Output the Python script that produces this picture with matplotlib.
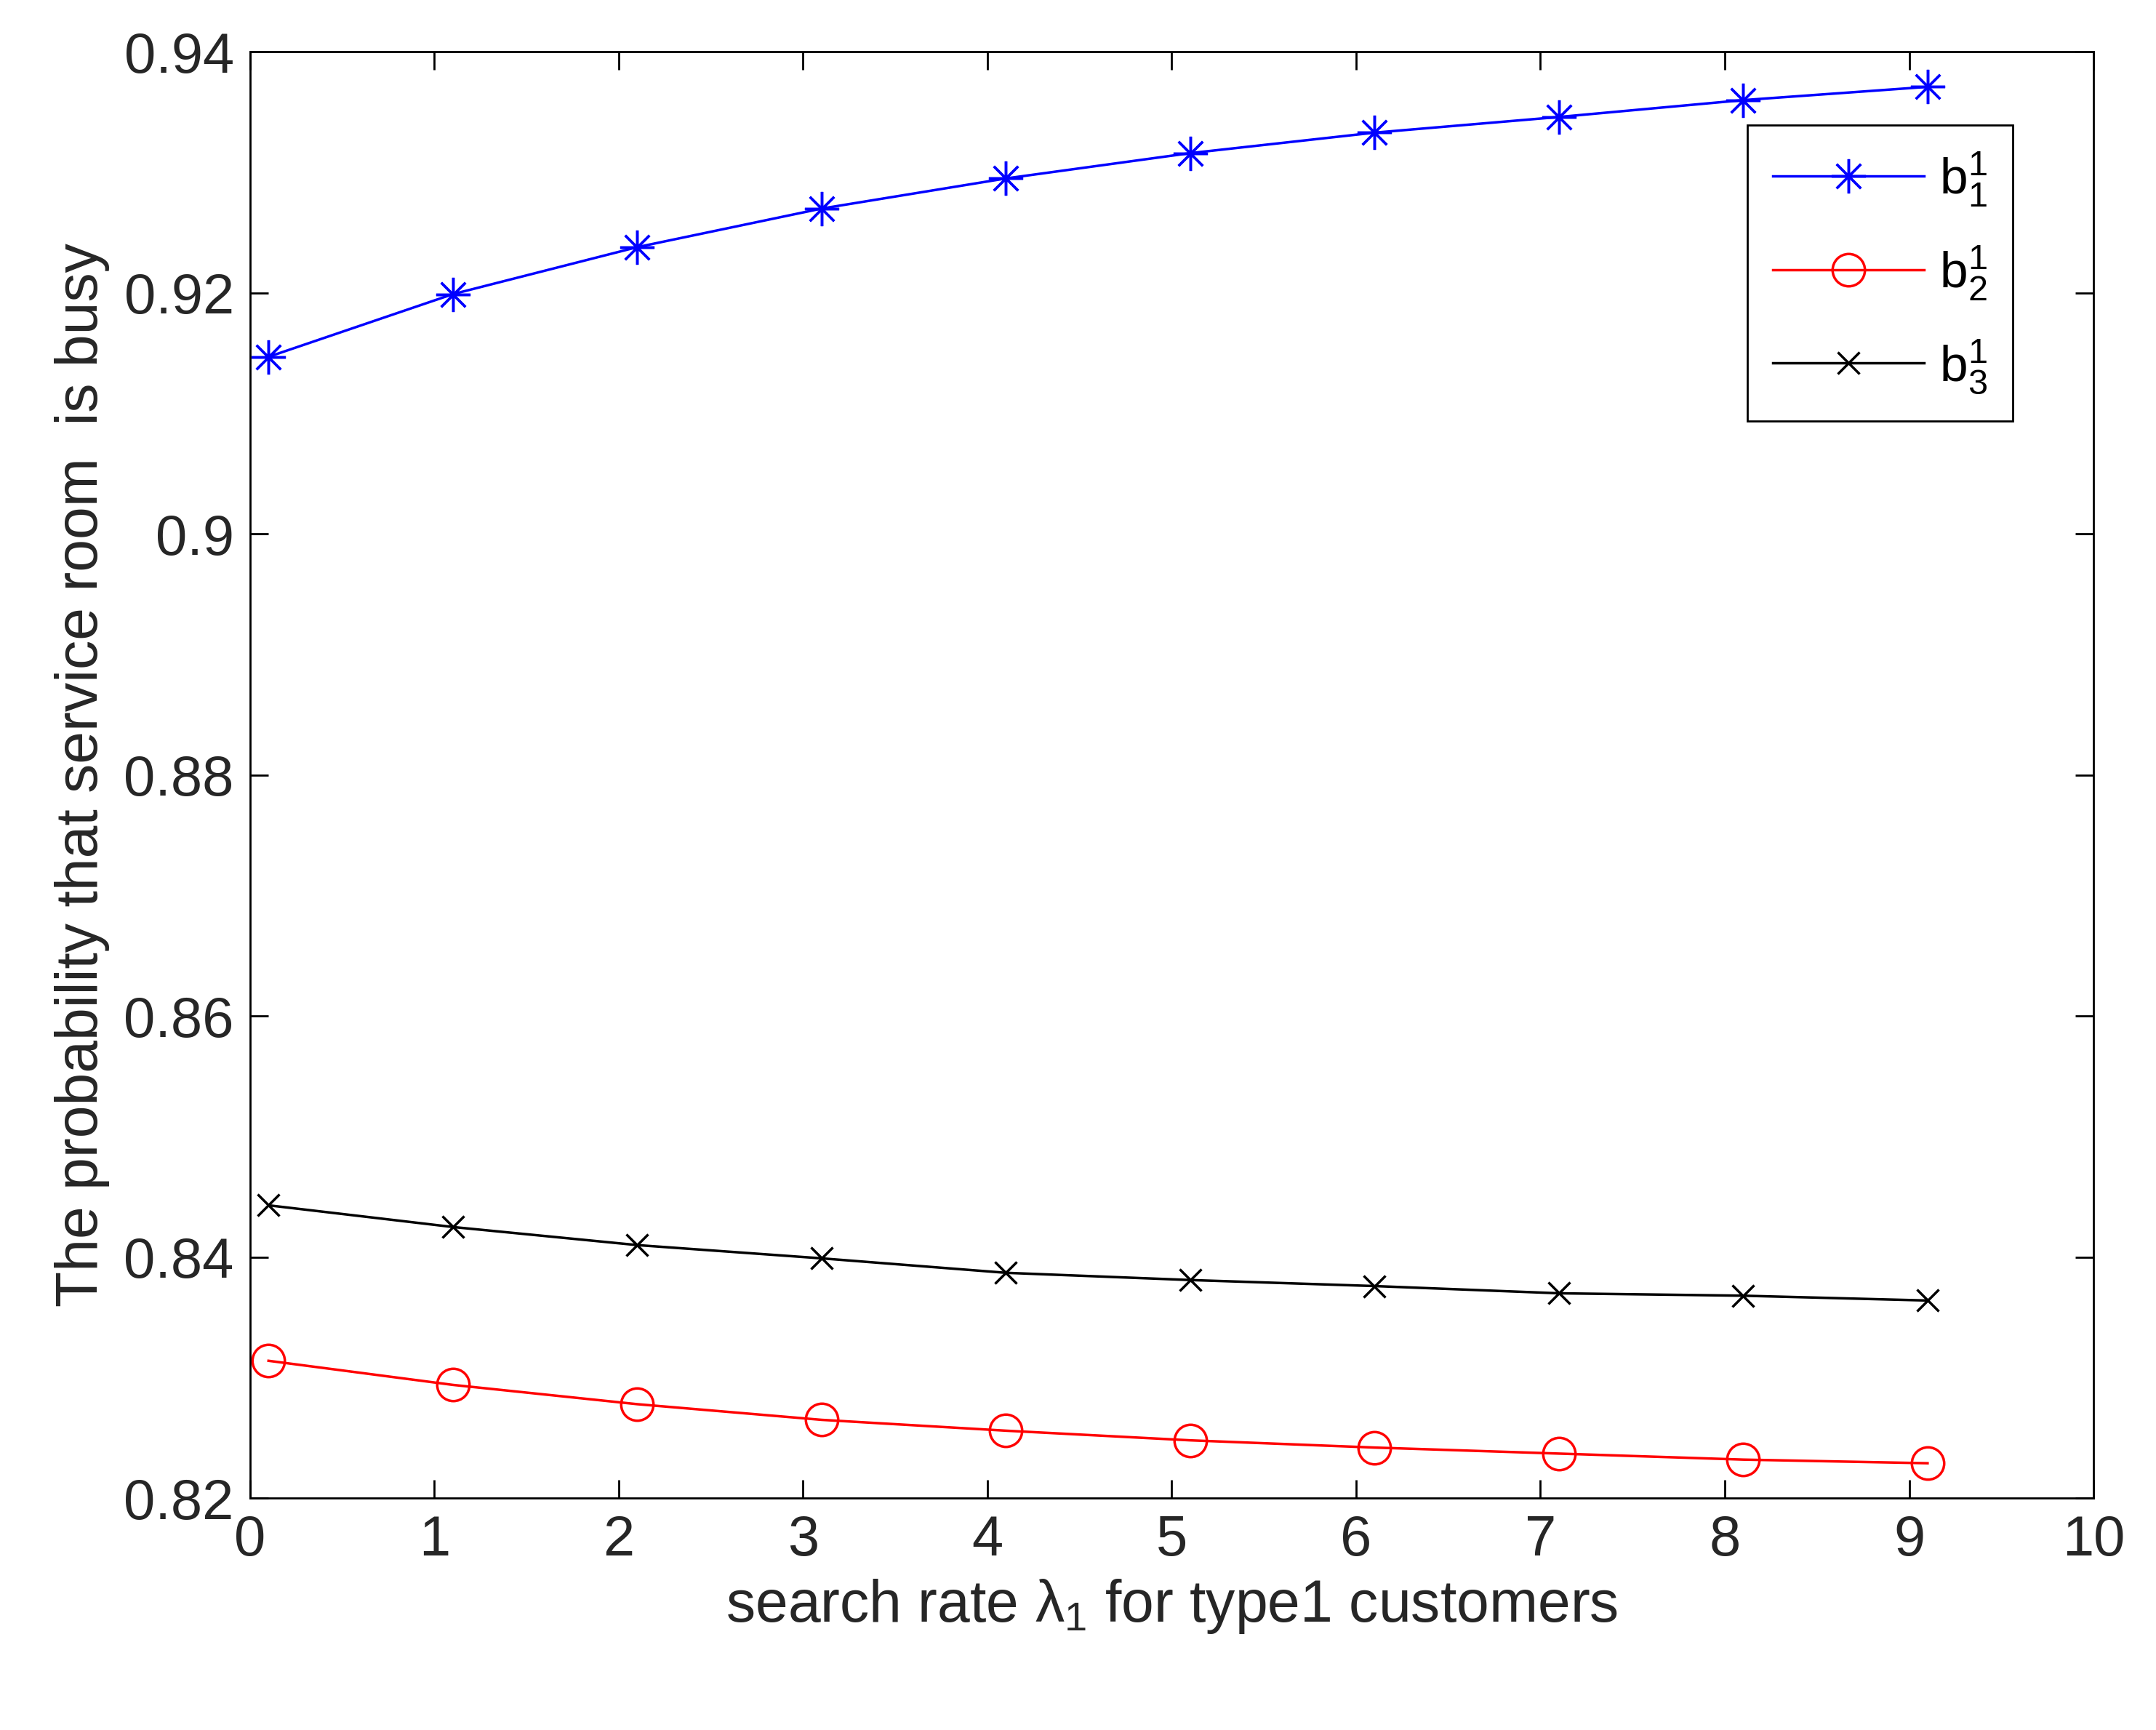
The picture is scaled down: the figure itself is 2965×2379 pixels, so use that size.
import matplotlib
matplotlib.use("Agg")
import matplotlib.pyplot as plt

plt.rcParams['font.family'] = ['Liberation Sans', 'DejaVu Sans']
plt.rcParams['mathtext.fontset'] = 'custom'
plt.rcParams['mathtext.rm'] = 'Liberation Sans'
plt.rcParams['mathtext.it'] = 'Liberation Sans'

x = [0.1, 1.1, 2.1, 3.1, 4.1, 5.1, 6.1, 7.1, 8.1, 9.1]
b1 = [0.9147, 0.9199, 0.9238, 0.9270, 0.9295, 0.9316, 0.9333, 0.9346, 0.9360, 0.9371]
b2 = [0.8314, 0.8294, 0.8278, 0.8265, 0.8256, 0.8248, 0.8242, 0.8237, 0.8232, 0.8229]
b3 = [0.8443, 0.8425, 0.8410, 0.8399, 0.8387, 0.8381, 0.8376, 0.8370, 0.8368, 0.8364]
xticks = list(range(0, 11))
yticks = [0.82, 0.84, 0.86, 0.88, 0.9, 0.92, 0.94]
yticklabels = ["0.82", "0.84", "0.86", "0.88", "0.9", "0.92", "0.94"]

fig = plt.figure(figsize=(29.65, 23.79), dpi=100)
ax = fig.add_axes([0.116, 0.134, 0.855, 0.836])
ax.plot(x, b1, color="#0000ff", marker=(8, 2, 0), markersize=34, markeredgewidth=2.5, lw=2.5, label=r"b$_1^1$")
ax.plot(x, b2, color="#ff0000", marker="o", markersize=32, markerfacecolor="none", markeredgewidth=2.5, lw=2.5, label=r"b$_2^1$")
ax.plot(x, b3, color="black", marker="x", markersize=22, markeredgewidth=2.5, lw=2.5, label=r"b$_3^1$")
ax.set_xlim(0, 10)
ax.set_ylim(0.82, 0.94)
ax.set_xticks(xticks)
ax.set_yticks(yticks)
ax.set_yticklabels(yticklabels)
ax.tick_params(direction="in", length=18, width=2, top=True, right=True, labelsize=56, pad=16, labelcolor="#262626")
for s in ax.spines.values():
    s.set_linewidth(2)
ax.set_xlabel(r"search rate $\lambda_1$ for type1 customers", fontsize=58, color="#262626", labelpad=10)
ax.set_ylabel("The probability that service room  is busy", fontsize=58, color="#262626", labelpad=14)
leg = ax.legend(loc="upper right", bbox_to_anchor=(0.97, 0.967), fontsize=50, fancybox=False,
                edgecolor="black", framealpha=1, handlelength=3.0, labelspacing=0.7, borderpad=0.5,
                handletextpad=0.3)
leg.get_frame().set_linewidth(2)
fig.savefig("out.png", dpi=100)
